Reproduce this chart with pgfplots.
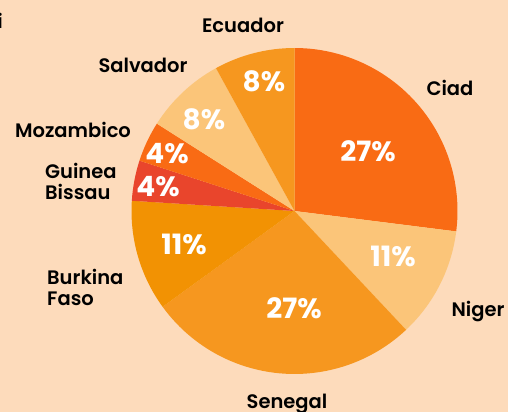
\documentclass[border=0pt]{standalone}
\usepackage{pgfplots}
\pgfplotsset{compat=1.18}
\usepackage{pgfplotstable}
\usepackage{fontspec}
\setmainfont{Poppins}
\newfontfamily\labfont{Poppins}[UprightFont=* SemiBold]
\definecolor{bg}{HTML}{FDDBBB}
\definecolor{cciad}{HTML}{F96B14}
\definecolor{cniger}{HTML}{FBC579}
\definecolor{csen}{HTML}{F6971F}
\definecolor{cbur}{HTML}{F29203}
\definecolor{cgui}{HTML}{E9452C}
\definecolor{cmoz}{HTML}{F96B14}
\definecolor{csal}{HTML}{FBC579}
\definecolor{cecu}{HTML}{F6971F}
\pgfplotstableread{
name value col
Ciad 27 cciad
Niger 11 cniger
Senegal 27 csen
Burkina 11 cbur
Guinea 4 cgui
Mozambico 4 cmoz
Salvador 8 csal
Ecuador 8 cecu
}\piedata
\tikzset{lab/.style={font=\fontsize{19.5bp}{21bp}\selectfont\labfont, inner sep=0pt},
  pct/.style={font=\fontsize{28bp}{30bp}\selectfont\bfseries, text=white, inner sep=0pt}}
\begin{document}
\begin{tikzpicture}
\useasboundingbox (0,0) rectangle (508bp,412bp);
\fill[bg] (0,0) rectangle (508bp,412bp);
\begin{scope}
\clip (0,0) rectangle (508bp,412bp);
\begin{axis}[x=1bp,y=1bp,xmin=0,xmax=508,ymin=0,ymax=412,hide axis,clip=false,
  at={(0,0)},anchor=south west]
\def\cum{0}
\pgfplotsforeachungrouped \i in {0,...,7}{%
  \pgfplotstablegetelem{\i}{value}\of\piedata \let\v\pgfplotsretval
  \pgfplotstablegetelem{\i}{col}\of\piedata \let\c\pgfplotsretval
  \pgfmathsetmacro\sa{90-3.6*\cum}%
  \pgfmathsetmacro\ea{90-3.6*(\cum+\v)}%
  \edef\doslice{\noexpand\fill[\c] (axis cs:294.5,201) -- ++(\sa:163bp) arc[start angle=\sa, end angle=\ea, radius=163bp] -- cycle;}%
  \doslice
  \pgfmathsetmacro\cum{\cum+\v}%
}
% category labels
\node[lab] at (axis cs:243,387) {Ecuador};
\node[lab] at (axis cs:143,347) {Salvador};
\node[lab] at (axis cs:73,282) {Mozambico};
\node[lab,anchor=west,align=left] at (axis cs:45,231) {Guinea\\Bissau};
\node[lab] at (axis cs:450,324) {Ciad};
\node[lab] at (axis cs:478,100) {Niger};
\node[lab] at (axis cs:287,8) {Senegal};
\node[lab,anchor=west,align=left] at (axis cs:47,125) {Burkina\\Faso};
\node[lab,anchor=east] at (axis cs:3,391) {i};
% percentages
\node[pct] at (axis cs:264,331) {8\%};
\node[pct] at (axis cs:204,293) {8\%};
\node[pct] at (axis cs:167,258) {4\%};
\node[pct] at (axis cs:158,225) {4\%};
\node[pct] at (axis cs:368,261) {27\%};
\node[pct] at (axis cs:393,156) {11\%};
\node[pct] at (axis cs:294,104) {27\%};
\node[pct] at (axis cs:184,168) {11\%};
\end{axis}
\end{scope}
\end{tikzpicture}
\end{document}
